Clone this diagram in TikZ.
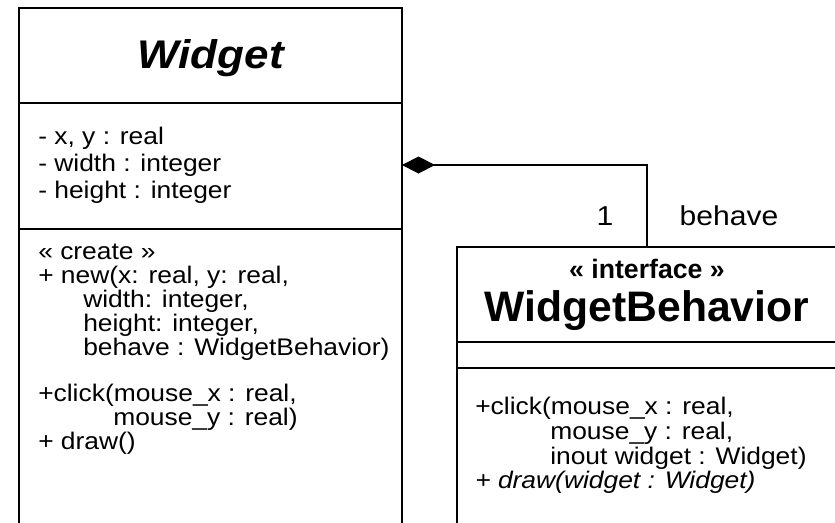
\documentclass[tikz,border=0pt]{standalone}
\usepackage{fontspec}
\setmainfont{Liberation Sans}
\newfontfamily\umlfont[FakeStretch=1.1]{Liberation Sans}
\usetikzlibrary{arrows.meta,positioning,calc}

\begin{document}
\begin{tikzpicture}[
    x=0.75pt, y=-0.75pt,
    classbox/.style={draw, line width=1.5pt, rectangle, anchor=north west, inner sep=0pt, outer sep=0pt},
    member/.style={anchor=north west, inner sep=0pt, align=left},
    divider/.style={line width=1.5pt},
    composition/.style={line width=1.1pt, -{Diamond[length=24.75pt, width=12.75pt]}},
    rolelabel/.style={anchor=base, inner sep=0pt, font=\umlfont\fontsize{20.5}{25}\selectfont}
]
    \useasboundingbox (0,0) rectangle (835,522);
    \clip (0,0) rectangle (835,522);

    \node[classbox, minimum width=287.25pt, minimum height=414pt] (widget) at (19,8) {};
    \node[anchor=base, inner sep=0pt, font=\umlfont\bfseries\itshape\fontsize{30}{36}\selectfont] (widgetname) at (210.5,68) {Widget};
    \draw[divider] (19,103) -- (402,103);
    \draw[line width=2.1pt] (19,229) -- (402,229);
    \node[member, font=\umlfont\fontsize{18}{20.25}\selectfont] (widgetattrs) at (38,127) {
        - x, y : real\\
        - width : integer\\
        - height : integer
    };
    \node[member, font=\umlfont\fontsize{18}{18}\selectfont] (widgetops) at (38,244) {
        « create »\\
        + new(x: real, y: real,\\
        \hspace*{33.75pt}width: integer,\\
        \hspace*{33.75pt}height: integer,\\
        \hspace*{33.75pt}behave : WidgetBehavior)\\[16pt]
        +click(mouse\_x : real,\\
        \hspace*{56.25pt}mouse\_y : real)\\
        + draw()
    };

    \node[classbox, minimum width=285.75pt, minimum height=225pt] (behavior) at (457,247) {};
    \node[anchor=base, inner sep=0pt, font=\bfseries\fontsize{20}{24}\selectfont] (stereotype) at (647,278) {« interface »};
    \node[anchor=base, inner sep=0pt, font=\bfseries\fontsize{32}{38}\selectfont] (behaviorname) at (647,321) {WidgetBehavior};
    \draw[divider] (457,342) -- (838,342);
    \draw[divider] (457,368) -- (838,368);
    \node[member, font=\umlfont\fontsize{18}{18.5}\selectfont] (behaviorops) at (475,397) {
        +click(mouse\_x : real,\\
        \hspace*{56.25pt}mouse\_y : real,\\
        \hspace*{56.25pt}inout widget : Widget)\\
        \textit{+ draw(widget : Widget)}
    };

    \coordinate (joint) at (647,165);
    \draw[composition] (joint |- behavior.north) |- (widget.east |- joint);
    \node[rolelabel] (multiplicity) at (605,225) {1};
    \node[rolelabel] (role) at (729,225) {behave};
\end{tikzpicture}
\end{document}
